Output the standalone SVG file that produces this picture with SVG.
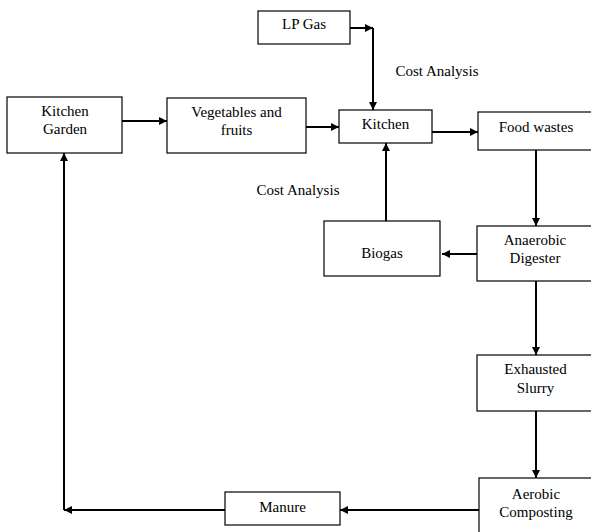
<svg xmlns="http://www.w3.org/2000/svg" width="591" height="532" viewBox="0 0 591 532">
<style>
.box{fill:#fff;stroke:#000;stroke-width:1.2}
.t{font-family:"Liberation Serif","Times New Roman",serif;font-size:15px;fill:#000;text-anchor:middle}
.c{stroke:#000;stroke-width:2;fill:none}
</style>
<defs>
<marker id="ah" viewBox="0 0 10 10" refX="10" refY="5" markerUnits="userSpaceOnUse" markerWidth="8" markerHeight="8" orient="auto">
<path d="M0,0 L10,5 L0,10 z" fill="#000"/>
</marker>
</defs>
<rect width="591" height="532" fill="#fff"/>
<g id="connectors">
<line class="c" x1="122" y1="121" x2="167" y2="121" marker-end="url(#ah)"/>
<line class="c" x1="306" y1="127" x2="339" y2="127" marker-end="url(#ah)"/>
<line class="c" x1="350" y1="28" x2="373" y2="28" marker-end="url(#ah)"/>
<line class="c" x1="373" y1="28" x2="373" y2="110" marker-end="url(#ah)"/>
<line class="c" x1="432" y1="132" x2="478" y2="132" marker-end="url(#ah)"/>
<line class="c" x1="536" y1="150" x2="536" y2="226" marker-end="url(#ah)"/>
<line class="c" x1="477" y1="254" x2="442" y2="254" marker-end="url(#ah)"/>
<line class="c" x1="386" y1="221" x2="386" y2="143" marker-end="url(#ah)"/>
<line class="c" x1="536" y1="281" x2="536" y2="355" marker-end="url(#ah)"/>
<line class="c" x1="536" y1="411" x2="536" y2="478" marker-end="url(#ah)"/>
<line class="c" x1="479" y1="510" x2="340" y2="510" marker-end="url(#ah)"/>
<line class="c" x1="225" y1="510" x2="64" y2="510" marker-end="url(#ah)"/>
<line class="c" x1="64" y1="510" x2="64" y2="153" marker-end="url(#ah)"/>
</g>
<g id="lpgas"><rect class="box" x="258" y="11" width="92" height="33"/><text class="t" x="304" y="29">LP Gas</text></g>
<g id="kitchen-garden"><rect class="box" x="7" y="97" width="115" height="56"/><text class="t" x="65" y="116">Kitchen</text><text class="t" x="65" y="134">Garden</text></g>
<g id="vegetables"><rect class="box" x="167" y="98" width="139" height="55"/><text class="t" x="236.5" y="117">Vegetables and</text><text class="t" x="236.5" y="135">fruits</text></g>
<g id="kitchen"><rect class="box" x="339" y="110" width="93" height="33"/><text class="t" x="385.5" y="129">Kitchen</text></g>
<g id="food-wastes"><rect class="box" x="478" y="112" width="116" height="38"/><text class="t" x="536" y="132">Food wastes</text></g>
<g id="biogas"><rect class="box" x="324" y="221" width="116" height="55"/><text class="t" x="382" y="258">Biogas</text></g>
<g id="anaerobic"><rect class="box" x="477" y="226" width="117" height="55"/><text class="t" x="535" y="245">Anaerobic</text><text class="t" x="535" y="263">Digester</text></g>
<g id="exhausted"><rect class="box" x="477" y="355" width="117" height="56"/><text class="t" x="535.5" y="374">Exhausted</text><text class="t" x="535.5" y="393">Slurry</text></g>
<g id="aerobic"><rect class="box" x="479" y="478" width="115" height="60"/><text class="t" x="536" y="499">Aerobic</text><text class="t" x="536" y="517">Composting</text></g>
<g id="manure"><rect class="box" x="225" y="492" width="115" height="33"/><text class="t" x="282.5" y="512">Manure</text></g>
<g id="labels">
<text class="t" x="437" y="76">Cost Analysis</text>
<text class="t" x="298" y="195">Cost Analysis</text>
</g>
</svg>
